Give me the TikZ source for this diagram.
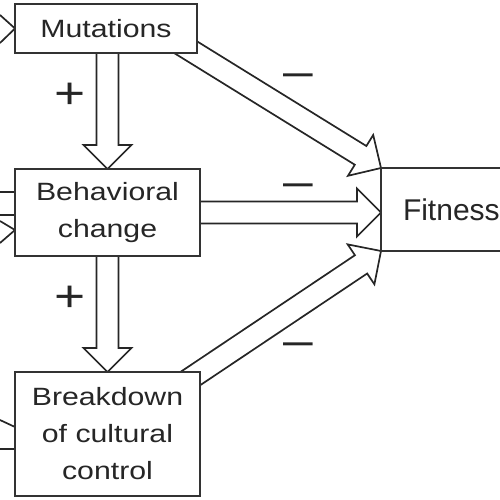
\documentclass[tikz,border=0pt]{standalone}
\usepackage{fontspec}
\setmainfont{Liberation Sans}
\newfontfamily\boxfont[FakeStretch=1.21]{Liberation Sans}
\usetikzlibrary{calc,backgrounds}

\newcommand\blockarrow[2]{%
\draw[arrowline] let \p1=(#1), \p2=(#2),
 \n1={atan2(\y2-\y1,\x2-\x1)}, \n2={veclen(\x2-\x1,\y2-\y1)} in
 ($(\p1)+({\n1+90}:11pt)$) --
 ($(\p1)+(\n1:{\n2-24pt})+({\n1+90}:11pt)$) --
 ($(\p1)+(\n1:{\n2-24pt})+({\n1+90}:24pt)$) --
 (\p2) --
 ($(\p1)+(\n1:{\n2-24pt})+({\n1-90}:24pt)$) --
 ($(\p1)+(\n1:{\n2-24pt})+({\n1-90}:11pt)$) --
 ($(\p1)+({\n1-90}:11pt)$);}

\tikzset{
  box/.style={draw=black!80, line width=2pt, fill=white, inner sep=0pt, outer sep=0pt,
    align=center, text=black!85, font=\boxfont\fontsize{25}{37}\selectfont},
  arrowline/.style={draw=black!85, line width=1.7pt, line join=miter},
  stub/.style={draw=black!85, line width=1.7pt},
  sign/.style={inner sep=0pt, text=black!85, font=\boxfont\fontsize{44}{44}\selectfont},
}

\begin{document}
\begin{tikzpicture}[x=1pt,y=1pt]
\useasboundingbox (0,0) rectangle (500,500);

\node[box, minimum width=182pt, minimum height=49pt] (mut) at (106,471.5) {Mutations};
\node[box, minimum width=185pt, minimum height=87pt] (beh) at (107.5,287.5) {Behavioral\\change};
\node[box, minimum width=185pt, minimum height=124pt] (brk) at (107.5,66) {Breakdown\\of cultural\\control};
\node[box, anchor=west, minimum width=160pt, minimum height=83pt, text width=116pt,
      inner xsep=22pt, align=left, font=\fontsize{30}{36}\selectfont] (fit) at (381,290.5) {Fitness};

\node[sign] (p1) at (70,404) {+};
\node[sign] (p2) at (70,201) {+};
\node[sign] (m1) at (298,420) {–};
\node[sign] (m2) at (298,310) {–};
\node[sign] (m3) at (298,151) {–};

\coordinate (ms0) at ($(mut.north)+(0,6)$);
\coordinate (ms) at ($(ms0)!0.15!(fit.north west)$);

\coordinate (la1) at (0,485);
\coordinate (la2) at (0,457);
\coordinate (lb1) at (0,308);
\coordinate (lb2) at (0,285);
\coordinate (lb3) at (0,279);
\coordinate (lb4) at (15,270);
\coordinate (lb5) at (0,257);
\coordinate (lc1) at (0,80);
\coordinate (lc2) at (15,73);
\coordinate (lc3) at (0,51);

\begin{pgfonlayer}{background}
\blockarrow{beh.north |- mut.center}{beh.north}
\blockarrow{beh.center}{brk.north}
\blockarrow{beh.center}{fit.west |- beh.center}
\blockarrow{ms}{fit.north west}
\blockarrow{brk.center}{fit.south west}
\draw[stub] (la1) -- (mut.west) -- (la2);
\draw[stub] (lb1) -- (lb1 -| beh.west);
\draw[stub] (lb2) -- (lb2 -| beh.west);
\draw[stub] (lb3) -- (lb4) -- (lb5);
\draw[stub] (lc1) -- (lc2);
\draw[stub] (lc3) -- (lc3 -| brk.west);
\end{pgfonlayer}
\end{tikzpicture}
\end{document}
